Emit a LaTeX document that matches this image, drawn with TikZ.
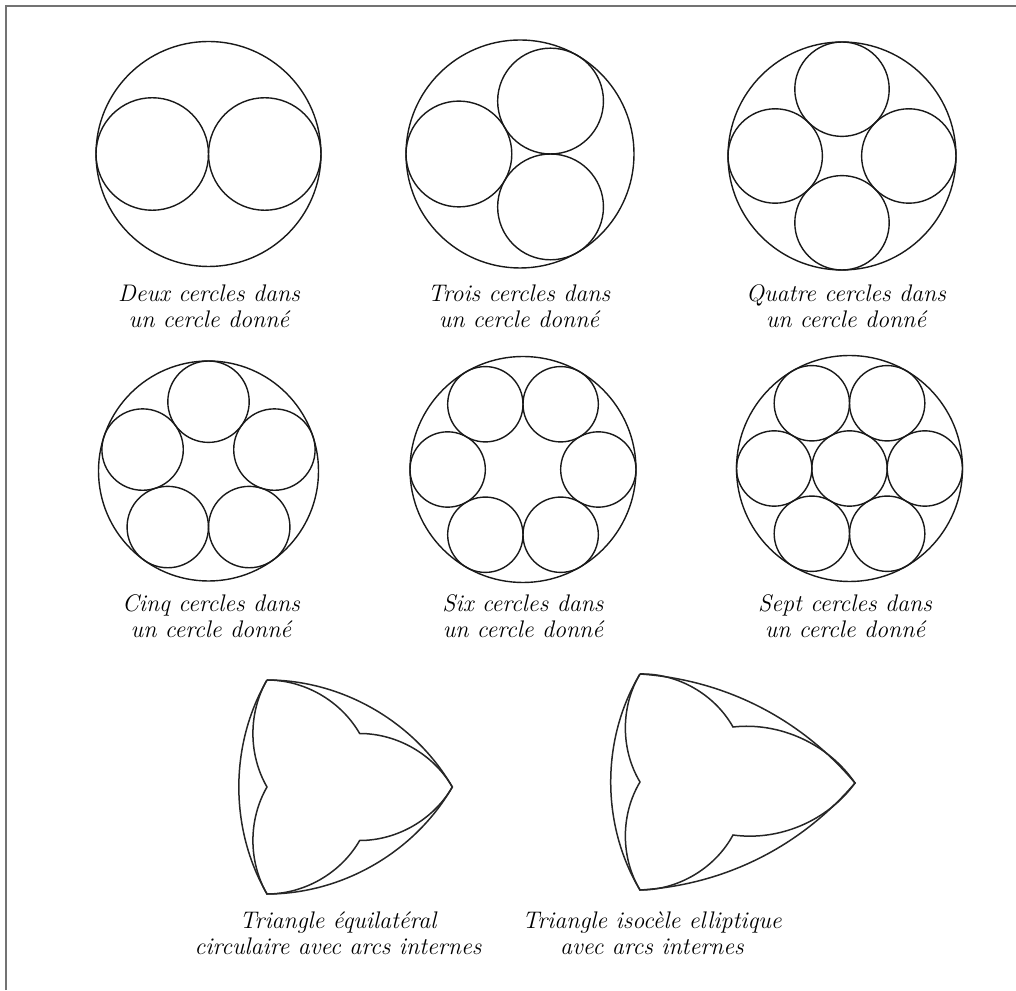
\documentclass[tikz,border=0pt]{standalone}
\usepackage{tikz}
\usetikzlibrary{calc}

\begin{document}
\begin{tikzpicture}[x=1pt, y=1pt,
    cercle/.style={draw=black!90, line width=1.4pt},
    courbe/.style={draw=black!85, line width=1.5pt, looseness=0.9},
    legende/.style={align=center, inner sep=0pt, font=\fontsize{24}{26}\selectfont\itshape},
    cadre/.style={draw=black!55, line width=2pt}]

	\useasboundingbox (0,0) rectangle (1016,990);
	\draw[cadre] (5.5,0) -- (5.5,983.5) -- (1016,983.5);

	% deux cercles
	\coordinate (c1) at (208.5,836);
	\draw[cercle] (c1) circle (112.5);
	\foreach \a in {0,180} \draw[cercle] ($(c1)+(\a:56.25)$) circle (56.25);
	\node[legende] (l1) at (209,684) {Deux cercles dans\\un cercle donné};

	% trois cercles
	\coordinate (c2) at (520,836);
	\draw[cercle] (c2) circle (114);
	\foreach \a in {60,180,300} \draw[cercle] ($(c2)+(\a:61.1)$) circle (52.9);
	\node[legende] (l2) at (519,684) {Trois cercles dans\\un cercle donné};

	% quatre cercles
	\coordinate (c3) at (842,834);
	\draw[cercle] (c3) circle (114);
	\foreach \a in {0,90,180,270} \draw[cercle] ($(c3)+(\a:66.8)$) circle (47.2);
	\node[legende] (l3) at (846,684) {Quatre cercles dans\\un cercle donné};

	% cinq cercles
	\coordinate (c4) at (208.5,519);
	\draw[cercle] (c4) circle (110);
	\foreach \a in {90,162,234,306,18} \draw[cercle] ($(c4)+(\a:69.3)$) circle (40.7);
	\node[legende] (l4) at (211,374) {Cinq cercles dans\\un cercle donné};

	% six cercles
	\coordinate (c5) at (523,520.5);
	\draw[cercle] (c5) circle (113);
	\foreach \a in {0,60,...,300} \draw[cercle] ($(c5)+(\a:75.33)$) circle (37.67);
	\node[legende] (l5) at (523,374) {Six cercles dans\\un cercle donné};

	% sept cercles
	\coordinate (c6) at (849.5,521.5);
	\draw[cercle] (c6) circle (113);
	\draw[cercle] (c6) circle (37.67);
	\foreach \a in {0,60,...,300} \draw[cercle] ($(c6)+(\a:75.33)$) circle (37.67);
	\node[legende] (l6) at (845,374) {Sept cercles dans\\un cercle donné};

	% triangle equilateral circulaire
	\coordinate (t1a) at (267,310);
	\coordinate (t1b) at (267,96);
	\coordinate (t1c) at (452.3,203);
	\coordinate (t1ab) at ($(t1a)!0.5!(t1b)$);
	\coordinate (t1bc) at ($(t1b)!0.5!(t1c)$);
	\coordinate (t1ca) at ($(t1c)!0.5!(t1a)$);
	\draw[courbe] (t1a) to[bend right=30] (t1b) to[bend right=30] (t1c) to[bend right=30] (t1a);
	\draw[courbe] (t1a) to[bend right=30] (t1ab) to[bend right=30] (t1b)
		to[bend right=30] (t1bc) to[bend right=30] (t1c)
		to[bend right=30] (t1ca) to[bend right=30] (t1a);
	\node[legende] (l7) at (338,57) {Triangle équilatéral\\circulaire avec arcs internes};

	% triangle isocele elliptique
	\coordinate (t2a) at (640,316);
	\coordinate (t2b) at (640,100);
	\coordinate (t2c) at (855,207);
	\coordinate (t2ab) at (640,208);
	\coordinate (t2bc) at (733,155);
	\coordinate (t2ca) at (733,263);
	\draw[courbe] (t2a) to[bend right=31] (t2b) to[bend right=23] (t2c) to[bend right=23] (t2a);
	\draw[courbe] (t2a) to[bend right=31] (t2ab) to[bend right=31] (t2b)
		to[bend right=31] (t2bc) to[bend right=31] (t2c)
		to[bend right=31] (t2ca) to[bend right=31] (t2a);
	\node[legende] (l8) at (652,57) {Triangle isocèle elliptique\\avec arcs internes};
\end{tikzpicture}
\end{document}
